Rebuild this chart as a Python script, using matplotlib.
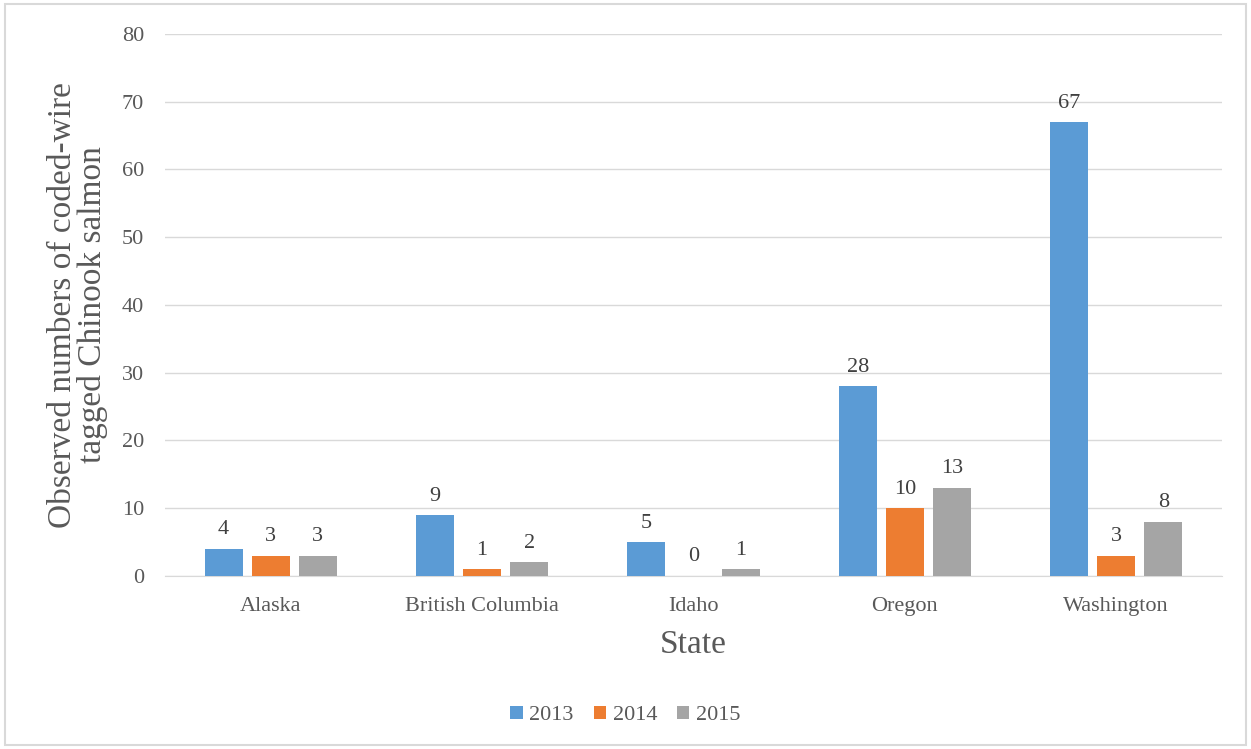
import matplotlib
matplotlib.use("Agg")
import matplotlib.pyplot as plt
import numpy as np

states = ["Alaska", "British Columbia", "Idaho", "Oregon", "Washington"]
years = ["2013", "2014", "2015"]
counts_2013 = [4, 9, 5, 28, 67]
counts_2014 = [3, 1, 0, 10, 3]
counts_2015 = [3, 2, 1, 13, 8]
colors = ["#5B9BD5", "#ED7D31", "#A5A5A5"]
text_color = "#595959"

plt.rcParams["font.family"] = ["Liberation Serif", "DejaVu Serif"]

fig = plt.figure(figsize=(12.51, 7.49), dpi=100)
ax = fig.add_axes([0.1319, 0.231, 0.8449, 0.7236])

x = np.arange(len(states))
width = 0.18
offset = 0.223
for i, (vals, year) in enumerate(zip([counts_2013, counts_2014, counts_2015], years)):
    bars = ax.bar(x + (i - 1) * offset, vals, width, color=colors[i], label=year, zorder=3)
    for b, v in zip(bars, vals):
        ax.text(b.get_x() + b.get_width() / 2, v + 1.4, str(v), ha="center", va="bottom",
                fontsize=16, color="#404040")

ax.set_xlim(-0.5, len(states) - 0.5)
ax.set_ylim(0, 80)
ax.set_yticks(range(0, 81, 10))
ax.set_xticks(x)
ax.set_xticklabels(states)
ax.tick_params(axis="both", length=0, labelsize=16, labelcolor=text_color)
ax.tick_params(axis="y", pad=15)
ax.tick_params(axis="x", pad=15)
ax.grid(axis="y", color="#D9D9D9", linewidth=1, zorder=0)
for s in ["top", "right", "left"]:
    ax.spines[s].set_visible(False)
ax.spines["bottom"].set_color("#D9D9D9")

ax.set_xlabel("State", fontsize=24, color=text_color, labelpad=10)
ax.set_ylabel("Observed numbers of coded-wire\ntagged Chinook salmon", fontsize=24,
              color=text_color, labelpad=10, linespacing=0.95)

leg = fig.legend(loc="center", bbox_to_anchor=(0.5, 0.045), ncol=3, frameon=False,
                 fontsize=16, handlelength=0.55, handleheight=0.55, handletextpad=0.3,
                 columnspacing=0.9)
for t in leg.get_texts():
    t.set_color(text_color)

border = plt.Rectangle((0.004, 0.005), 0.992, 0.99, transform=fig.transFigure,
                       fill=False, edgecolor="#D9D9D9", linewidth=1.5)
fig.patches.append(border)

fig.savefig("out.png", dpi=100, facecolor="white")
